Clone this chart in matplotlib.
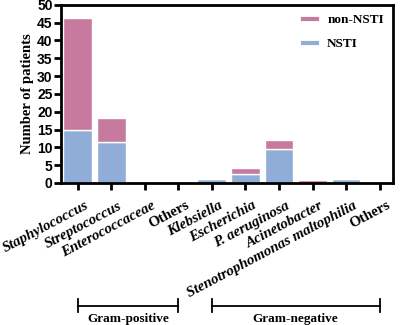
import numpy as np
import matplotlib.pyplot as plt
from matplotlib.lines import Line2D

categories = ["Staphylococcus", "Streptococcus", "Enterococcaceae", "Others",
              "Klebsiella", "Escherichia", "P. aeruginosa", "Acinetobacter",
              "Stenotrophomonas maltophilia", "Others"]
italic = [True, True, True, False, True, True, True, True, True, False]
nsti = [15, 11.5, 0, 0, 1, 2.4, 9.4, 0, 1, 0]
non_nsti = [31.3, 6.8, 0, 0, 0, 1.8, 2.7, 0.9, 0, 0]
groups = [("Gram-positive", 0, 3), ("Gram-negative", 4, 9)]

pink = "#C7799E"
blue = "#8FADD6"
serif = "Liberation Serif"

fig = plt.figure(figsize=(4, 3.25), dpi=100)
ax = fig.add_axes([0.1525, 0.437, 0.83, 0.548])

x = np.arange(len(categories))
ax.bar(x, nsti, width=0.86, color=blue, edgecolor="white", linewidth=1.0)
ax.bar(x, non_nsti, width=0.86, bottom=nsti, color=pink, edgecolor="white", linewidth=1.0)

ax.set_xlim(-0.5, 9.4)
ax.set_ylim(0, 50)
ax.set_yticks(np.arange(0, 51, 5))
ax.set_yticklabels([str(v) for v in range(0, 51, 5)], fontsize=10, fontweight="bold",
                   family="Liberation Sans")
ax.set_ylabel("Number of patients", fontsize=10.5, fontweight="bold", family=serif, labelpad=2)

ax.set_xticks(x)
ax.set_xticklabels([])
for i, (lab, it) in enumerate(zip(categories, italic)):
    ax.text(i + 0.2, -4.5, lab, rotation=28, ha="right", va="top", rotation_mode="anchor",
            fontsize=10.7, fontweight="bold", family=serif,
            style="italic" if it else "normal", clip_on=False)

for s in ax.spines.values():
    s.set_linewidth(2)
ax.tick_params(axis="both", width=2, length=5, direction="out", pad=1)

# group brackets
for name, a, b in groups:
    yb = -34.5
    ax.plot([a, b], [yb, yb], color="black", lw=1.3, clip_on=False)
    ax.plot([a, a], [yb - 1.8, yb + 1.8], color="black", lw=1.3, clip_on=False)
    ax.plot([b, b], [yb - 1.8, yb + 1.8], color="black", lw=1.3, clip_on=False)
    ax.text((a + b) / 2, yb - 2.0, name, ha="center", va="top", fontsize=9.5,
            fontweight="bold", family=serif, clip_on=False)

handles = [Line2D([], [], color=pink, lw=3), Line2D([], [], color=blue, lw=3)]
ax.legend(handles, ["non-NSTI", "NSTI"], loc="upper right", frameon=False,
          handlelength=1.0, labelspacing=0.9, borderaxespad=0.3,
          prop={"family": serif, "weight": "bold", "size": 9.5})

fig.savefig("out.png", dpi=100)
